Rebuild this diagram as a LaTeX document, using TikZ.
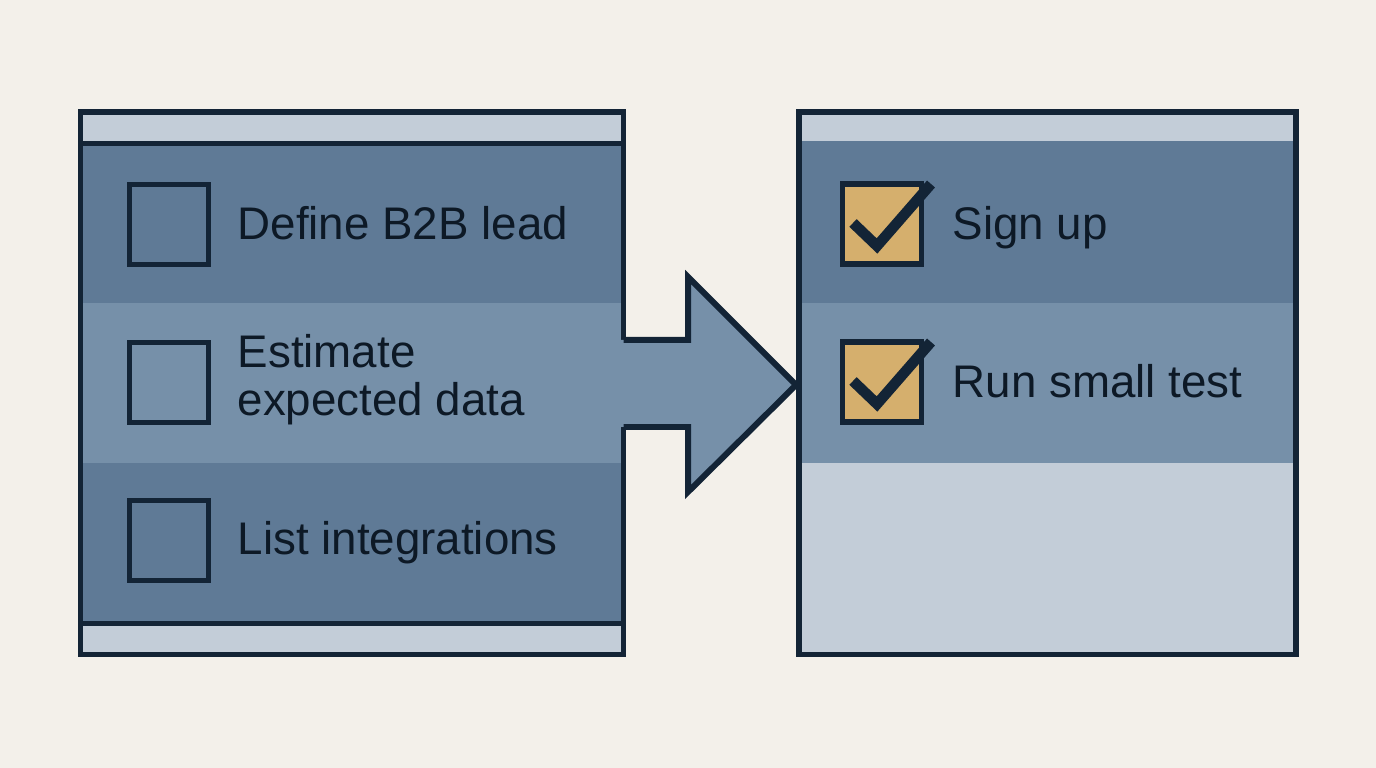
\documentclass[tikz,border=0pt]{standalone}
\usepackage{fontspec}
\setmainfont{Liberation Sans}
\definecolor{paper}{HTML}{F3F0EA}
\definecolor{pale}{HTML}{C3CDD8}
\definecolor{rowdark}{HTML}{5F7A96}
\definecolor{rowmid}{HTML}{7690A9}
\definecolor{ink}{HTML}{132436}
\definecolor{gold}{HTML}{D5AF6D}
\tikzset{
 frame/.style={draw=ink,line width=1.7pt},
 tickbox/.style={draw=ink,line width=1.6pt,minimum width=0.79cm,minimum height=0.80cm,inner sep=0pt},
 item/.style={anchor=base west,inner sep=0pt,font=\fontsize{13}{13.7}\selectfont,text=ink!70!black,align=left},
 tick/.style={draw=ink,line width=3pt,line join=miter}
}
\begin{document}
\begin{tikzpicture}[x=0.01cm,y=-0.01cm]
 \fill[paper](0,0) rectangle (1376,768);
 \useasboundingbox (0,0) rectangle (1376,768);
 \fill[pale](80,112) rectangle (624,655);
 \fill[rowdark](80,146) rectangle (624,303);
 \fill[rowmid](80,303) rectangle (624,463);
 \fill[rowdark](80,463) rectangle (624,621);
 \draw[ink,line width=1.5pt](80,143.5)--(624,143.5);
 \draw[ink,line width=1.5pt](80,623.5)--(624,623.5);
 \draw[frame](80.5,112.5) rectangle (623.5,654.5);
 \fill[pale](798,112) rectangle (1296,655);
 \fill[rowdark](798,141) rectangle (1296,303);
 \fill[rowmid](798,303) rectangle (1296,463);
 \draw[frame](798.5,112.5) rectangle (1295.5,654.5);
 \fill[rowmid](620,340)--(688,340)--(688,277)--(796,385)--(688,492)--(688,427)--(620,427)--cycle;
 \draw[frame,line join=miter](623.5,340)--(688,340)--(688,277)--(796,385)--(688,492)--(688,427)--(623.5,427);
 \node[tickbox] (boxa) at (169,224.5) {};
 \node[tickbox] (boxb) at (169,382.5) {};
 \node[tickbox] (boxc) at (169,540.5) {};
 \node[item] (texta) at (237,240) {Define B2B lead};
 \node[item] (textb) at (237,416) {Estimate\\expected data};
 \node[item] (textc) at (237,555) {List integrations};
 \node[tickbox,fill=gold] (boxd) at (882,224) {};
 \node[tickbox,fill=gold] (boxe) at (882,382) {};
 \draw[tick](853,223)--(877,246)--(931,184);
 \draw[tick](853,381)--(877,404)--(931,342);
 \node[item] (textd) at (952,240) {Sign up};
 \node[item] (texte) at (952,398) {Run small test};
\end{tikzpicture}
\end{document}
